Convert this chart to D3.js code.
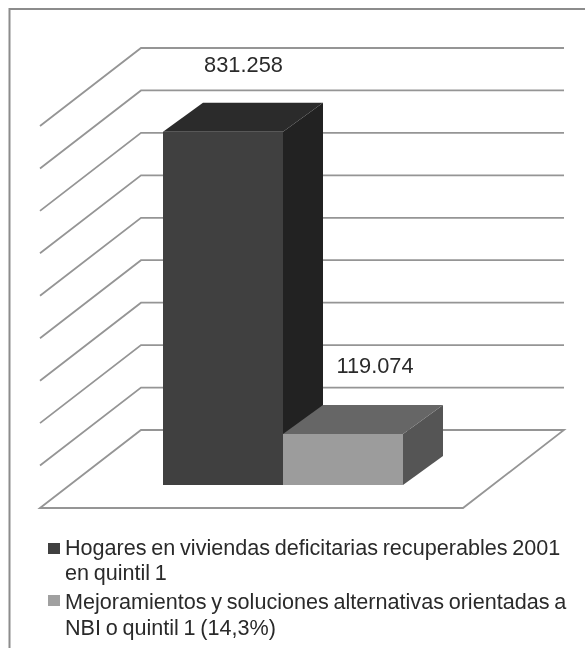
<!DOCTYPE html>
<html><head><meta charset="utf-8">
<script src="https://cdn.jsdelivr.net/npm/d3@7"></script>
<style>html,body{margin:0;padding:0;background:#fff}svg{display:block;filter:blur(.5px)}text{font-family:"Liberation Sans",Arial,sans-serif;fill:#2a2a2a}</style>
</head><body><div id="chart"></div>
<script>
const categories = ["Hogares en viviendas deficitarias recuperables 2001 en quintil 1","Mejoramientos y soluciones alternativas orientadas a NBI o quintil 1 (14,3%)"];
const values = [831258, 119074];
const valueLabels = ["831.258", "119.074"];
const legendLines = [["Hogares en viviendas deficitarias recuperables 2001","en quintil 1"],["Mejoramientos y soluciones alternativas orientadas a","NBI o quintil 1 (14,3%)"]];
const gridTicks = [0,100000,200000,300000,400000,500000,600000,700000,800000,900000];
const frontColors = ["#404040","#9c9c9c"], topColors = ["#2b2b2b","#666666"], sideColors = ["#222222","#555555"], swatchColors = ["#404040","#a0a0a0"];

const W=585,H=648;
const svg=d3.select("#chart").append("svg").attr("width",W).attr("height",H);
svg.append("path").attr("d",`M9.5 ${H} V9 H${W}`).attr("fill","none").attr("stroke","#8c8c8c").attr("stroke-width",2);

const y=d3.scaleLinear().domain([0,900000]).range([430,48]);
const wallL=141,wallR=564,dx=-101,dy=78;
const grid=svg.append("g").attr("fill","none").attr("stroke","#959595").attr("stroke-width",1.8);
gridTicks.forEach(t=>{
  const p=d3.path(), yy=y(t);
  p.moveTo(wallL+dx,yy+dy);p.lineTo(wallL,yy);p.lineTo(wallR,yy);
  if(t===0){p.lineTo(wallR+dx,yy+dy);p.closePath();}
  grid.append("path").attr("d",p.toString());
});

const x=d3.scaleBand().domain(categories).range([163,403]);
const baseOff=55, depthX=40, depthY=29;
const poly=(pts,c)=>svg.append("polygon").attr("points",pts.map(p=>p.join(",")).join(" ")).attr("fill",c);
categories.forEach((c,i)=>{
  const x0=x(c),x1=x0+x.bandwidth(),t=y(values[i])+baseOff-0.5,b=y(0)+baseOff;
  poly([[x1,t],[x1+depthX,t-depthY],[x1+depthX,b-depthY],[x1,b]],sideColors[i]);
  poly([[x0,t],[x0+depthX,t-depthY],[x1+depthX,t-depthY],[x1,t]],topColors[i]);
  poly([[x0,t],[x1,t],[x1,b],[x0,b]],frontColors[i]);
});

const lblX=[243.5,375],lblY=[71.5,373];
valueLabels.forEach((l,i)=>svg.append("text").attr("x",lblX[i]).attr("y",lblY[i]).attr("text-anchor","middle").attr("font-size",21.8).text(l));

const swY=[543,595],lineY=[[555,580],[609,635]];
legendLines.forEach((ls,i)=>{
  svg.append("rect").attr("x",48).attr("y",swY[i]).attr("width",12).attr("height",11).attr("fill",swatchColors[i]);
  ls.forEach((s,j)=>svg.append("text").attr("x",65).attr("y",lineY[i][j]).attr("font-size",21.6).attr("word-spacing",-1.3).text(s));
});
</script></body></html>
